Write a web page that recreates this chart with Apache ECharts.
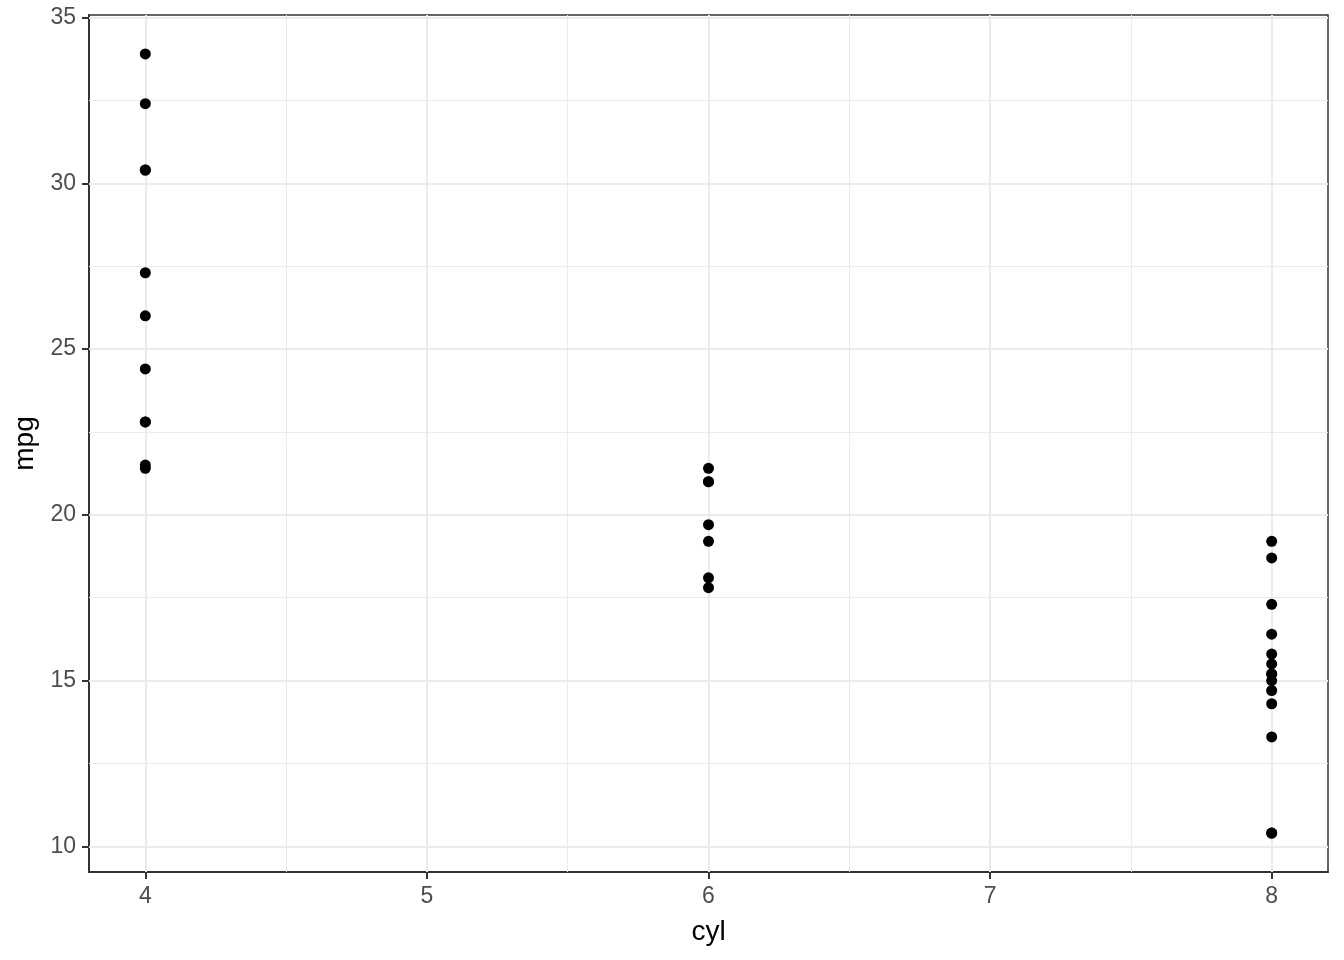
<!DOCTYPE html>
<html>
<head>
<meta charset="utf-8">
<script src="https://cdn.jsdelivr.net/npm/echarts@6/dist/echarts.min.js"></script>
<style>html,body{margin:0;padding:0;background:#fff}#c{width:1344px;height:960px}</style>
</head>
<body>
<div id="c"></div>
<script>
// mtcars: mpg by number of cylinders
const cyl = [6, 6, 4, 6, 8, 6, 8, 4, 4, 6, 6, 8, 8, 8, 8, 8, 8, 4, 4, 4, 4, 8, 8, 8, 8, 4, 4, 4, 8, 6, 8, 4];
const mpg = [21.0, 21.0, 22.8, 21.4, 18.7, 18.1, 14.3, 24.4, 22.8, 19.2, 17.8, 16.4, 17.3, 15.2, 10.4, 10.4, 14.7, 32.4, 30.4, 33.9, 21.5, 15.5, 15.2, 13.3, 19.2, 27.3, 26.0, 30.4, 15.8, 19.7, 15.0, 21.4];
const xTicks = [4, 5, 6, 7, 8];
const yTicks = [10, 15, 20, 25, 30, 35];
const xMinor = [4.5, 5.5, 6.5, 7.5];
const yMinor = [12.5, 17.5, 22.5, 27.5, 32.5];
const xRange = [3.8, 8.2];
const yRange = [9.225, 35.075];

const points = cyl.map((c, i) => [c, mpg[i]]);
const gridMajor = '#ebebeb';
const lineMinor = [].concat(
  xMinor.map(v => ({ xAxis: v })),
  yMinor.map(v => ({ yAxis: v }))
);
const lineMajor = [].concat(
  xTicks.map(v => ({ xAxis: v })),
  yTicks.map(v => ({ yAxis: v }))
);

const chart = echarts.init(document.getElementById('c'), null, { renderer: 'canvas' });
chart.setOption({
  animation: false,
  backgroundColor: '#ffffff',
  grid: {
    left: 89, right: 16, top: 15, bottom: 88,
    show: true, borderColor: '#333333', borderWidth: 1.5, backgroundColor: 'transparent',
    containLabel: false
  },
  xAxis: {
    type: 'value', min: xRange[0], max: xRange[1],
    name: 'cyl', nameLocation: 'middle', nameGap: 46,
    nameTextStyle: { color: '#000000', fontSize: 28, fontFamily: 'Liberation Sans' },
    axisLine: { show: true, onZero: false, lineStyle: { color: '#333333', width: 2 } },
    axisTick: { show: true, customValues: xTicks, length: 7, lineStyle: { color: '#333333', width: 2 } },
    axisLabel: { customValues: xTicks, margin: 13, color: '#4d4d4d', fontSize: 23, fontFamily: 'Liberation Sans' },
    splitLine: { show: false }
  },
  yAxis: {
    type: 'value', min: yRange[0], max: yRange[1],
    name: 'mpg', nameLocation: 'middle', nameGap: 47, nameRotate: 90,
    nameTextStyle: { color: '#000000', fontSize: 28, fontFamily: 'Liberation Sans' },
    axisLine: { show: true, onZero: false, lineStyle: { color: '#333333', width: 2 } },
    axisTick: { show: true, customValues: yTicks, length: 7, lineStyle: { color: '#333333', width: 2 } },
    axisLabel: { customValues: yTicks, margin: 13, color: '#4d4d4d', fontSize: 23, fontFamily: 'Liberation Sans' },
    splitLine: { show: false }
  },
  series: [
    {
      type: 'scatter', data: [], silent: true, z: 1,
      markLine: {
        silent: true, symbol: 'none', label: { show: false }, animation: false,
        lineStyle: { color: '#ebebeb', width: 1, type: 'solid' },
        data: lineMinor
      }
    },
    {
      type: 'scatter', data: [], silent: true, z: 1,
      markLine: {
        silent: true, symbol: 'none', label: { show: false }, animation: false,
        lineStyle: { color: gridMajor, width: 2, type: 'solid' },
        data: lineMajor
      }
    },
    {
      type: 'scatter', data: points, z: 5,
      symbol: 'circle', symbolSize: 11,
      itemStyle: { color: '#000000', opacity: 1 }
    }
  ]
});
</script>
</body>
</html>
